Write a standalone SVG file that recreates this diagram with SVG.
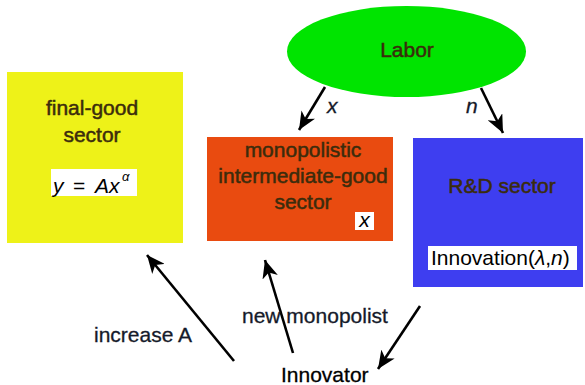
<svg xmlns="http://www.w3.org/2000/svg" width="585" height="385" viewBox="0 0 585 385">
<style>
text{font-family:"Liberation Sans",Arial,sans-serif;font-size:21px}
.lbl{fill:#3b2c0c;stroke:#3b2c0c;stroke-width:0.5;text-anchor:middle}
.it{font-style:italic}
.dark{fill:#151a2a;stroke:#151a2a;stroke-width:0.3}
.conn line{stroke:#000;stroke-width:2.6;marker-end:url(#ah)}
</style>
<defs>
<marker id="ah" markerUnits="userSpaceOnUse" markerWidth="20" markerHeight="16" refX="18" refY="8" orient="auto">
<path d="M0,0 L18,8 L0,16 L5,8 z" fill="#000"/>
</marker>
</defs>
<rect width="585" height="385" fill="#fff"/>
<g id="labor">
<ellipse cx="406.5" cy="51.5" rx="119.5" ry="45.5" fill="#00e400"/>
<text class="lbl" x="407" y="57">Labor</text>
</g>
<g id="final-good">
<rect x="7" y="72" width="176" height="171" fill="#eef218"/>
<text class="lbl" x="92" y="115">final-good</text>
<text class="lbl" x="92" y="142">sector</text>
<rect x="51" y="169" width="86" height="27" fill="#fff"/>
<text y="193" fill="#000" class="it" font-size="23"><tspan x="53">y</tspan><tspan x="73" font-style="normal">=</tspan><tspan x="95">Ax</tspan><tspan x="122" y="181" font-size="13">α</tspan></text>
</g>
<g id="intermediate">
<rect x="207" y="137" width="186" height="104" fill="#e94b10"/>
<text class="lbl" x="303" y="157">monopolistic</text>
<text class="lbl" x="303" y="183">intermediate-good</text>
<text class="lbl" x="303" y="209">sector</text>
<rect x="355" y="212" width="19" height="18" fill="#fff"/>
<text class="it" x="364.5" y="227" text-anchor="middle" fill="#000">x</text>
</g>
<g id="rd">
<rect x="413" y="138" width="170" height="149" fill="#3e3ef0"/>
<text class="lbl" x="502" y="193">R&amp;D sector</text>
<rect x="428" y="246" width="149" height="24" fill="#fff"/>
<text x="431" y="265" fill="#000">Innovation(<tspan class="it">λ</tspan>,<tspan class="it">n</tspan>)</text>
</g>
<g class="conn" id="connectors">
<line x1="325" y1="87" x2="299" y2="130"/>
<line x1="481" y1="88" x2="503" y2="133"/>
<line x1="234" y1="361" x2="147" y2="255"/>
<line x1="293" y1="353" x2="265" y2="260"/>
<line x1="420" y1="306" x2="378" y2="369"/>
</g>
<g id="labels">
<text class="it dark" x="327" y="113">x</text>
<text class="it dark" x="466" y="113">n</text>
<text class="dark" x="94" y="342">increase A</text>
<text class="dark" x="242" y="323">new monopolist</text>
<text fill="#000" stroke="#000" stroke-width="0.3" x="281" y="382">Innovator</text>
</g>
</svg>
